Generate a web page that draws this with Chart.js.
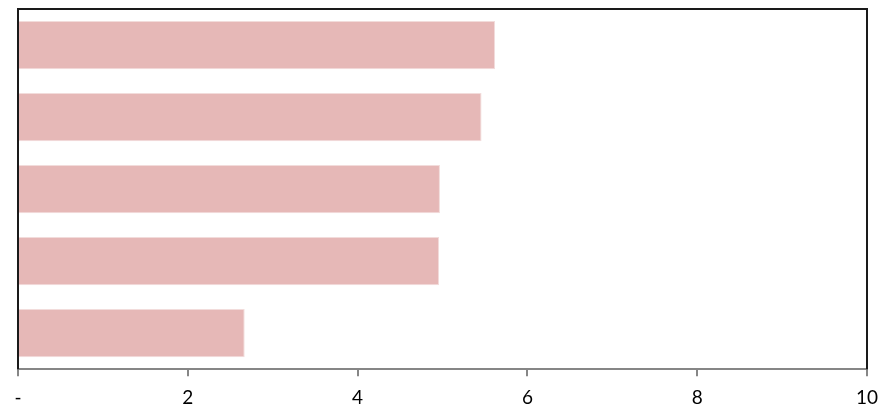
<!DOCTYPE html>
<html>
<head>
<meta charset="utf-8">
<script src="https://cdn.jsdelivr.net/npm/chart.js@4.4.1/dist/chart.umd.min.js"></script>
<style>
  html, body { margin: 0; padding: 0; background: #ffffff; }
  #wrap { width: 884px; height: 412px; position: relative; }
</style>
</head>
<body>
<div id="wrap"><canvas id="chart" width="884" height="412"></canvas></div>
<script>
// Horizontal bar values, top to bottom
const categories = ["Item 1", "Item 2", "Item 3", "Item 4", "Item 5"];
const values = [5.62, 5.46, 4.97, 4.96, 2.67];
const tickValues = [0, 2, 4, 6, 8, 10];
const tickLabels = ["-", "2", "4", "6", "8", "10"];

// Dark frame on the top, left and right edges of the plot area
const framePlugin = {
  id: "frame",
  afterDatasetsDraw(chart) {
    const { ctx, chartArea: a } = chart;
    ctx.save();
    ctx.strokeStyle = "#1a1a1a";
    ctx.lineWidth = 2;
    ctx.beginPath();
    ctx.moveTo(a.left, a.bottom);
    ctx.lineTo(a.left, a.top);
    ctx.lineTo(a.right, a.top);
    ctx.lineTo(a.right, a.bottom);
    ctx.stroke();
    ctx.restore();
  }
};

new Chart(document.getElementById("chart"), {
  type: "bar",
  data: {
    labels: categories,
    datasets: [{
      data: values,
      backgroundColor: "#E6B8B7",
      borderColor: "#F2DCDB",
      borderWidth: 1,
      barPercentage: 0.67,
      categoryPercentage: 1.0
    }]
  },
  options: {
    indexAxis: "y",
    responsive: false,
    animation: false,
    layout: { padding: { left: 18, right: 17, top: 9, bottom: -7 } },
    plugins: { legend: { display: false }, tooltip: { enabled: false } },
    scales: {
      x: {
        min: 0,
        max: 10,
        afterBuildTicks(axis) {
          axis.ticks = tickValues.map(v => ({ value: v }));
        },
        afterFit(axis) {
          // let the last label hang slightly past the plot edge
          axis.paddingRight = 0;
          axis.paddingLeft = 0;
        },
        border: { display: true, color: "#868686", width: 2 },
        grid: { drawOnChartArea: false, drawTicks: true, tickLength: 7, color: "#868686", lineWidth: 2 },
        ticks: {
          padding: 10,
          maxRotation: 0,
          autoSkip: false,
          color: "#000000",
          font: { family: "Lato, 'Open Sans', sans-serif", size: 19 },
          callback(value) {
            const i = tickValues.indexOf(value);
            return i >= 0 ? tickLabels[i] : "";
          }
        }
      },
      y: { display: false }
    }
  },
  plugins: [framePlugin]
});
</script>
</body>
</html>
